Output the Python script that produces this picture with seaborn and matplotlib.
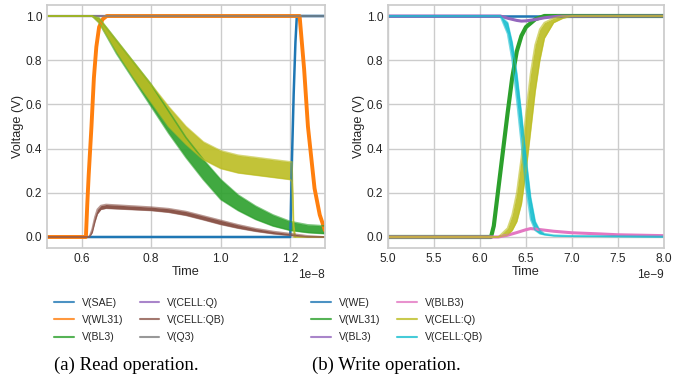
import numpy as np
import pandas as pd
import matplotlib
matplotlib.use("Agg")
import matplotlib.pyplot as plt
import seaborn as sns
from matplotlib.lines import Line2D

# ---------------- Read operation (time in ns) ----------------
t_sae = [5.0, 12.0, 12.01, 12.05, 12.1, 12.15, 12.19, 13.0]
v_sae = [0.0, 0.0, 0.05, 0.35, 0.65, 0.88, 1.0, 1.0]

t_wl31_r = [5.0, 6.12, 6.16, 6.2, 6.28, 6.35, 6.42, 6.5, 6.6, 6.72, 12.27, 12.4, 12.51, 12.7, 12.85, 13.0]
v_wl31_r = [0.0, 0.0, 0.15, 0.28, 0.5, 0.72, 0.86, 0.95, 0.985, 1.0, 1.0, 0.76, 0.5, 0.22, 0.1, 0.03]

t_q_r = [5.0, 13.0]
v_q_r = [1.0, 1.0]
t_q3 = [5.0, 13.0]
v_q3 = [1.0, 1.0]

t_bl3_r = [5.0, 6.3, 6.5, 7.0, 7.5, 8.0, 8.5, 9.0, 9.5, 10.0, 10.5, 11.0, 11.5, 12.0, 12.5, 13.0]
v_bl3_r_hi = [1.0, 1.0, 0.99, 0.89, 0.79, 0.69, 0.57, 0.45, 0.35, 0.26, 0.19, 0.14, 0.10, 0.07, 0.055, 0.05]
v_bl3_r_lo = [1.0, 1.0, 0.97, 0.83, 0.71, 0.59, 0.47, 0.36, 0.26, 0.17, 0.12, 0.08, 0.05, 0.03, 0.02, 0.015]

t_blb3_r = [5.0, 6.3, 6.5, 7.0, 7.5, 8.0, 8.5, 9.0, 9.5, 10.0, 10.5, 11.0, 11.5, 12.0, 12.05, 12.1, 12.15, 13.0]
v_blb3_r_hi = [1.0, 1.0, 0.99, 0.89, 0.79, 0.69, 0.59, 0.50, 0.43, 0.39, 0.37, 0.36, 0.35, 0.34, 0.34, 0.05, 0.0, 0.0]
v_blb3_r_lo = [1.0, 1.0, 0.97, 0.84, 0.72, 0.61, 0.50, 0.42, 0.35, 0.31, 0.29, 0.28, 0.27, 0.26, 0.25, 0.0, 0.0, 0.0]

t_qb_r = [5.0, 6.22, 6.3, 6.38, 6.45, 6.55, 6.7, 8.0, 8.5, 9.0, 9.5, 10.0, 10.5, 11.0, 11.5, 12.0, 12.5, 13.0]
v_qb_r_hi = [0.0, 0.0, 0.035, 0.09, 0.125, 0.142, 0.147, 0.135, 0.128, 0.115, 0.095, 0.075, 0.055, 0.038, 0.025, 0.015, 0.005, 0.0]
v_qb_r_lo = [0.0, 0.0, 0.02, 0.07, 0.105, 0.125, 0.13, 0.12, 0.112, 0.098, 0.078, 0.057, 0.04, 0.026, 0.015, 0.007, 0.0, 0.0]

# ---------------- Write operation (time in ns) ----------------
t_we = [5.0, 8.0]
v_we = [1.0, 1.0]

t_wl31_w = [5.0, 6.12, 6.15, 6.2, 6.25, 6.3, 6.35, 6.4, 6.45, 6.5, 6.6, 6.7, 8.0]
v_wl31_w = [0.0, 0.0, 0.05, 0.22, 0.39, 0.56, 0.72, 0.84, 0.91, 0.95, 0.985, 1.0, 1.0]

t_bl3_w = [5.0, 6.22, 6.3, 6.4, 6.45, 6.5, 6.6, 6.7, 6.85, 8.0]
v_bl3_w = [1.0, 1.0, 0.99, 0.98, 0.977, 0.978, 0.984, 0.992, 0.999, 1.0]

t_blb3_w = [5.0, 6.2, 6.3, 6.4, 6.5, 6.55, 6.6, 6.7, 6.8, 7.0, 7.3, 7.5, 8.0]
v_blb3_w = [0.0, 0.0, 0.008, 0.02, 0.033, 0.038, 0.036, 0.031, 0.026, 0.019, 0.014, 0.01, 0.006]

t_q_w = [5.0, 6.2, 6.3, 6.35, 6.4, 6.45, 6.5, 6.55, 6.6, 6.65, 6.7, 6.8, 6.9, 7.0, 7.2, 8.0]
v_q_w_hi = [0.0, 0.0, 0.04, 0.1, 0.2, 0.36, 0.56, 0.74, 0.87, 0.94, 0.97, 0.99, 1.0, 1.0, 1.0, 1.0]
v_q_w_lo = [0.0, 0.0, 0.01, 0.03, 0.07, 0.15, 0.3, 0.48, 0.66, 0.8, 0.9, 0.97, 0.99, 1.0, 1.0, 1.0]

t_qb_w = [5.0, 6.22, 6.3, 6.35, 6.4, 6.45, 6.5, 6.55, 6.6, 6.65, 6.7, 6.8, 7.0, 8.0]
v_qb_w_hi = [1.0, 1.0, 0.97, 0.88, 0.74, 0.56, 0.36, 0.18, 0.07, 0.03, 0.015, 0.008, 0.005, 0.003]
v_qb_w_lo = [1.0, 1.0, 0.92, 0.80, 0.62, 0.42, 0.22, 0.08, 0.03, 0.015, 0.01, 0.005, 0.003, 0.0]

read_labels = ["V(SAE)", "V(WL31)", "V(BL3)", "V(CELL:Q)", "V(CELL:QB)", "V(Q3)"]
read_colors = ["#1f77b4", "#ff7f0e", "#2ca02c", "#9467bd", "#8c564b", "#7f7f7f"]
write_labels = ["V(WE)", "V(WL31)", "V(BL3)", "V(BLB3)", "V(CELL:Q)", "V(CELL:QB)"]
write_colors = ["#1f77b4", "#2ca02c", "#9467bd", "#e377c2", "#bcbd22", "#17becf"]
OLIVE = "#bcbd22"

sns.set_theme(style="whitegrid")
plt.rcParams["font.family"] = ["Liberation Sans", "DejaVu Sans"]
plt.rcParams["axes.edgecolor"] = "#cccccc"

fig = plt.figure(figsize=(6.92, 3.81), dpi=100)
axL = fig.add_axes([0.0679, 0.349, 0.4017, 0.638])
axR = fig.add_axes([0.5607, 0.349, 0.3988, 0.638])

NS = 1e-9


def line(ax, t, v, color, lw=1.5, alpha=1.0):
    sns.lineplot(x=np.array(t) * NS, y=v, ax=ax, color=color, lw=lw, alpha=alpha,
                 legend=False, sort=False, estimator=None)


def band(ax, t, lo, hi, color, alpha=0.9):
    tt = np.array(t) * NS
    ax.fill_between(tt, lo, hi, color=color, alpha=alpha, lw=0)
    line(ax, t, lo, color, lw=1.2, alpha=0.6)
    line(ax, t, hi, color, lw=1.2, alpha=0.6)


# Read panel
line(axL, t_q_r, v_q_r, read_colors[3], lw=1.5)
line(axL, t_sae, v_sae, read_colors[0], lw=1.8)
line(axL, t_wl31_r, v_wl31_r, read_colors[1], lw=2.8)
line(axL, t_q3, v_q3, read_colors[5], lw=1.6, alpha=0.72)
band(axL, t_bl3_r, v_bl3_r_lo, v_bl3_r_hi, read_colors[2])
band(axL, t_blb3_r, v_blb3_r_lo, v_blb3_r_hi, OLIVE)
band(axL, t_qb_r, v_qb_r_lo, v_qb_r_hi, read_colors[4], alpha=1.0)

# Write panel
line(axR, t_we, v_we, write_colors[0], lw=1.8)
line(axR, t_wl31_w, v_wl31_w, write_colors[1], lw=3.0)
line(axR, t_bl3_w, v_bl3_w, write_colors[2], lw=2.2)
line(axR, t_blb3_w, v_blb3_w, write_colors[3], lw=2.2)
band(axR, t_q_w, v_q_w_lo, v_q_w_hi, write_colors[4])
band(axR, t_qb_w, v_qb_w_lo, v_qb_w_hi, write_colors[5])

for ax, xl in ((axL, (0.5e-8, 1.3e-8)), (axR, (5e-9, 8e-9))):
    ax.set_xlim(*xl)
    ax.set_ylim(-0.05, 1.05)
    ax.set_xlabel("Time", fontsize=9.2, labelpad=1)
    ax.set_ylabel("Voltage (V)", fontsize=9.2, labelpad=1.5)
    ax.tick_params(labelsize=8.6, pad=3.5, length=0)
    ax.xaxis.get_offset_text().set_fontsize(8.6)
    for s in ax.spines.values():
        s.set_color("#cccccc")

axL.set_xticks([0.6e-8, 0.8e-8, 1.0e-8, 1.2e-8])
axR.set_xticks([5.0e-9, 5.5e-9, 6.0e-9, 6.5e-9, 7.0e-9, 7.5e-9, 8.0e-9])
for ax in (axL, axR):
    ax.set_yticks([0.0, 0.2, 0.4, 0.6, 0.8, 1.0])


def make_legend(labels, colors, cx):
    handles = [Line2D([0], [0], color=c, lw=1.5, alpha=0.8) for c in colors]
    fig.legend(handles, labels, loc="center", bbox_to_anchor=(cx, 0.160), ncol=2,
               frameon=False, fontsize=7.6, handlelength=1.85, handletextpad=0.75,
               columnspacing=1.6, labelspacing=0.68)


make_legend(read_labels, read_colors, 0.202)
make_legend(write_labels, write_colors, 0.574)

fig.text(0.183, 0.042, "(a) Read operation.", ha="center", va="center",
         family=["Liberation Serif", "DejaVu Serif"], fontsize=13.5, color="black")
fig.text(0.559, 0.042, "(b) Write operation.", ha="center", va="center",
         family=["Liberation Serif", "DejaVu Serif"], fontsize=13.5, color="black")

fig.savefig("out.png", dpi=100)
